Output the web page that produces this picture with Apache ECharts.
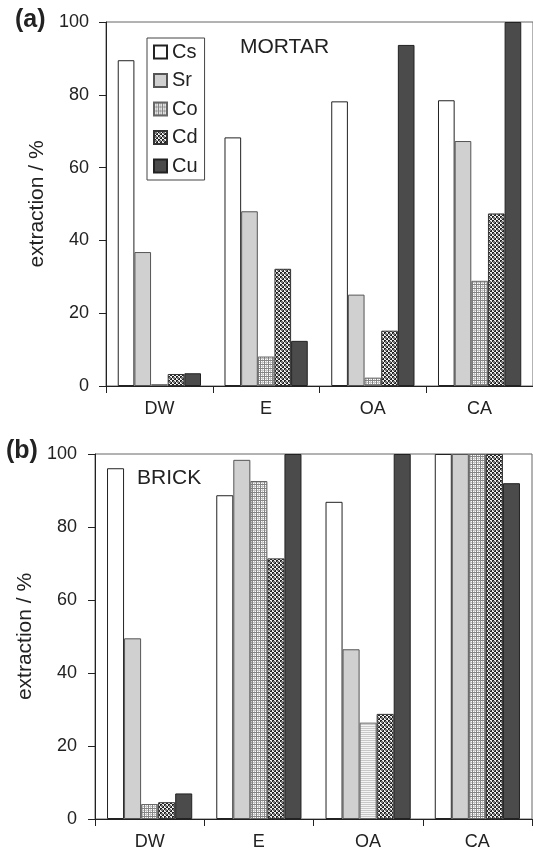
<!DOCTYPE html>
<html>
<head>
<meta charset="utf-8">
<script src="https://cdn.jsdelivr.net/npm/echarts@6/dist/echarts.min.js"></script>
<style>
html,body{margin:0;padding:0;background:#fff;}
#chart{width:533px;height:853px;}
</style>
</head>
<body>
<div id="chart"></div>
<script>
var categories = ['DW', 'E', 'OA', 'CA'];
var seriesNames = ['Cs', 'Sr', 'Co', 'Cd', 'Cu'];
var yTicks = [0, 20, 40, 60, 80, 100];

// (a) MORTAR
var mortarCs = [89.5, 68.3, 78.2, 78.5];
var mortarSr = [36.8, 48.0, 25.1, 67.3];
var mortarCo = [0.5, 8.1, 2.3, 28.9];
var mortarCd = [3.3, 32.2, 15.2, 47.4];
var mortarCu = [3.5, 12.4, 93.7, 100];

// (b) BRICK
var brickCs = [96.1, 88.7, 86.9, 100];
var brickSr = [49.5, 98.4, 46.5, 100];
var brickCo = [4.1, 92.6, 26.4, 100];
var brickCd = [4.6, 71.4, 28.8, 100];
var brickCu = [7.0, 100, 100, 92.0];

function makePattern(size, draw) {
  var c = document.createElement('canvas');
  c.width = size; c.height = size;
  var ctx = c.getContext('2d');
  draw(ctx);
  return { image: c, repeat: 'repeat' };
}
var coPattern = makePattern(4, function (ctx) {
  ctx.fillStyle = '#ffffff'; ctx.fillRect(0, 0, 4, 4);
  ctx.fillStyle = '#c4c4c4'; ctx.fillRect(2, 0, 1, 4); ctx.fillRect(0, 2, 4, 1);
  ctx.fillStyle = '#858585'; ctx.fillRect(0, 0, 4, 1); ctx.fillRect(0, 0, 1, 4);
});
var coPattern2 = makePattern(4, function (ctx) {
  ctx.fillStyle = '#f4f4f4'; ctx.fillRect(0, 0, 4, 4);
  ctx.fillStyle = '#c8c8c8'; ctx.fillRect(0, 0, 4, 1); ctx.fillRect(0, 2, 4, 1);
});
var cdPattern = makePattern(4, function (ctx) {
  ctx.fillStyle = '#eeeeee'; ctx.fillRect(0, 0, 4, 4);
  ctx.fillStyle = '#222222'; ctx.fillRect(0, 0, 2, 2); ctx.fillRect(2, 2, 2, 2);
  ctx.fillStyle = '#777777'; ctx.fillRect(1, 1, 2, 2);
});

var styles = {
  Cs: { color: '#ffffff', borderColor: '#222', borderWidth: 1 },
  Sr: { color: '#d0d0d0', borderColor: '#555', borderWidth: 1 },
  Co: { color: coPattern, borderColor: '#666', borderWidth: 1 },
  Cd: { color: cdPattern, borderColor: '#333', borderWidth: 1 },
  Cu: { color: '#4b4b4b', borderColor: '#222', borderWidth: 1 }
};

var FONT = 'Liberation Sans, Arial, sans-serif';
var mortarData = [mortarCs, mortarSr, mortarCo, mortarCd, mortarCu];
var brickData = [brickCs, brickSr, brickCo, brickCd, brickCu];

var series = [];
seriesNames.forEach(function (n, i) {
  series.push({
    name: n, type: 'bar', xAxisIndex: 0, yAxisIndex: 0,
    data: mortarData[i], barGap: '0%', barCategoryGap: '22%',
    itemStyle: styles[n], silent: true
  });
});
seriesNames.forEach(function (n, i) {
  var d = brickData[i];
  if (n === 'Co') {
    d = d.map(function (v, j) {
      return j === 2 ? { value: v, itemStyle: { color: coPattern2 } } : v;
    });
  }
  series.push({
    name: n, type: 'bar', xAxisIndex: 1, yAxisIndex: 1,
    data: d, barGap: '0%', barCategoryGap: '22%',
    itemStyle: styles[n], silent: true
  });
});

function xAx(gi) {
  return {
    type: 'category', gridIndex: gi, data: categories,
    axisLine: { lineStyle: { color: '#222', width: 1 } },
    axisTick: { show: true, length: 7, lineStyle: { color: '#222' } },
    axisLabel: { color: '#222', fontSize: 18, fontFamily: FONT, margin: 14 }
  };
}
function yAx(gi, margin) {
  return {
    type: 'value', gridIndex: gi, min: yTicks[0], max: yTicks[yTicks.length - 1], interval: 20,
    name: 'extraction / %', nameLocation: 'middle', nameGap: 57,
    nameTextStyle: { color: '#222', fontSize: 21, fontFamily: FONT },
    axisLine: { show: true, lineStyle: { color: '#222', width: 1 } },
    axisTick: { show: true, length: 7, lineStyle: { color: '#222' } },
    axisLabel: { color: '#222', fontSize: 18, fontFamily: FONT, margin: margin },
    splitLine: { show: false }
  };
}

var chart = echarts.init(document.getElementById('chart'), null, { renderer: 'canvas' });
chart.setOption({
  animation: false,
  backgroundColor: '#fff',
  grid: [
    { left: 106, top: 22, width: 428, height: 364, show: true, borderColor: '#666', borderWidth: 1 },
    { left: 95, top: 454, width: 437, height: 365, show: true, borderColor: '#666', borderWidth: 1 }
  ],
  xAxis: [xAx(0), xAx(1)],
  yAxis: [yAx(0, 17), yAx(1, 18)],
  legend: {
    data: seriesNames, orient: 'vertical', left: 147, top: 38,
    icon: 'rect',
    itemWidth: 13, itemHeight: 13, itemGap: 8.5,
    padding: [4, 7, 4, 6],
    borderColor: '#444', borderWidth: 1, backgroundColor: '#fff',
    selectedMode: false,
    textStyle: { color: '#222', fontSize: 20, lineHeight: 20, fontFamily: FONT }
  },
  graphic: [
    { type: 'text', left: 15, top: 8, style: { text: '(a)', font: 'bold 25px ' + FONT, fill: '#222' } },
    { type: 'text', left: 6, top: 439, style: { text: '(b)', font: 'bold 25px ' + FONT, fill: '#222' } },
    { type: 'text', left: 240, top: 37, style: { text: 'MORTAR', font: '21px ' + FONT, fill: '#222' } },
    { type: 'text', left: 137, top: 468, style: { text: 'BRICK', font: '21px ' + FONT, fill: '#222' } }
  ],
  series: series
});
</script>
</body>
</html>
